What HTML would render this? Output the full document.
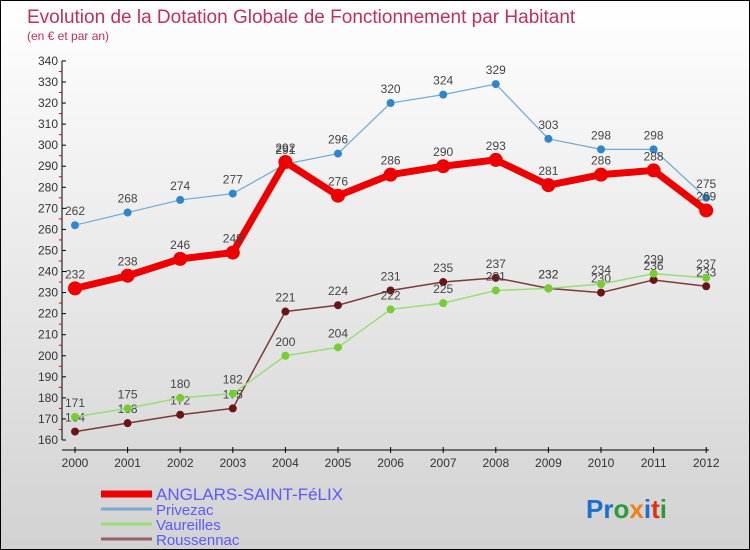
<!DOCTYPE html>
<html><head><meta charset="utf-8"><style>
body{margin:0}
#c{width:750px;height:550px;position:relative;box-sizing:border-box;border:1px solid #000;background:linear-gradient(#fff,#d2d2d2);font-family:"Liberation Sans",sans-serif;overflow:hidden}
</style></head><body>
<div id="c">
<svg id="s" width="748" height="548" style="position:absolute;left:0;top:0">
<text x="26" y="22" font-size="19" fill="#c0305a">Evolution de la Dotation Globale de Fonctionnement par Habitant</text>
<text x="26" y="39" font-size="12" fill="#c0305a">(en € et par an)</text>
<g id="g"></g>
<text x="585" y="517" font-size="26" font-weight="bold"><tspan fill="#1a6fd0">Pr</tspan><tspan fill="#2a9a3a">o</tspan><tspan fill="#f08010">x</tspan><tspan fill="#1a6fd0">i</tspan><tspan fill="#e03010">t</tspan><tspan fill="#2a9a3a">i</tspan></text>
</svg>
</div>
<script>
const years=[2000,2001,2002,2003,2004,2005,2006,2007,2008,2009,2010,2011,2012];
const yTicks=[160,170,180,190,200,210,220,230,240,250,260,270,280,290,300,310,320,330,340];
const anglars=[232,238,246,249,292,276,286,290,293,281,286,288,269];
const privezac=[262,268,274,277,291,296,320,324,329,303,298,298,275];
const vaureilles=[171,175,180,182,200,204,222,225,231,232,234,239,237];
const roussennac=[164,168,172,175,221,224,231,235,237,232,230,236,233];
const seriesNames=["ANGLARS-SAINT-FéLIX","Privezac","Vaureilles","Roussennac"];
const NS="http://www.w3.org/2000/svg";
const g=document.getElementById('g');
const X=i=>74+i*52.6;
const Y=v=>439-(v-160)*2.106;
function el(t,a,p){const e=document.createElementNS(NS,t);for(const k in a)e.setAttribute(k,a[k]);(p||g).appendChild(e);return e;}
// axes
let a=el('line',{x1:61,y1:Y(340),x2:61,y2:Y(160),stroke:'#000'});


a=el('line',{x1:61,y1:449,x2:708,y2:449,stroke:'#000'});


yTicks.forEach((v,i)=>{
 el('line',{x1:61,y1:Y(v),x2:65,y2:Y(v),stroke:'#000'});
 if(i<yTicks.length-1)el('line',{x1:58,y1:Y(v+5),x2:61,y2:Y(v+5),stroke:'#e00'});
 const t=el('text',{x:57,y:Y(v)+4,'font-size':12,fill:'#333','text-anchor':'end'});t.textContent=v;
 
 
});
years.forEach((y,i)=>{
 el('line',{x1:X(i),y1:446,x2:X(i),y2:452,stroke:'#000'});
 const t=el('text',{x:X(i),y:466,'font-size':12,fill:'#333','text-anchor':'middle'});t.textContent=y;
 
 
});
function series(d,color,w,r,name,dot){
 const p=el('polyline',{points:d.map((v,i)=>X(i)+','+Y(v)).join(' '),fill:'none',stroke:color,'stroke-width':w,'stroke-linejoin':'round'});
 
 
 d.forEach((v,i)=>{
  const c=el('circle',{cx:X(i),cy:Y(v),r:r,fill:dot});
  
  
  const t=el('text',{x:X(i),y:Y(v)-10,'font-size':12,fill:'#444','text-anchor':'middle'});t.textContent=v;
  
  
 });
}
series(roussennac,'#7a3a3a',1.5,4,'roussennac','#6a1515');
series(vaureilles,'#99dd77',1.5,4,'vaureilles','#77cc33');
series(privezac,'#6fa8d8',1.2,4,'privezac','#2f86cc');
series(anglars,'#ee0000',7,7,'anglars','#ee0000');
const lc=['#ee0000','#7aaad0','#99dd77','#9a6060'];const lw=[7,3,3,3];
seriesNames.forEach((n,i)=>{
 const y=493+i*15;
 const l=el('line',{x1:100,y1:y,x2:151,y2:y,stroke:lc[i],'stroke-width':lw[i]});
 
 
 const t=el('text',{x:155,y:y+6,'font-size':i==0?17:15,fill:'#5a5aff'});t.textContent=n;
 
 
});
</script>
</body></html>
